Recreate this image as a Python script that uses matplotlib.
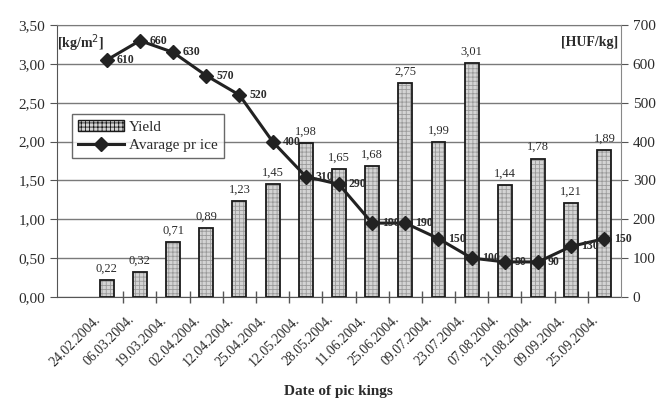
import numpy as np
import matplotlib.pyplot as plt
import matplotlib.transforms as mtransforms
from matplotlib.patches import Patch
from matplotlib.lines import Line2D

dates = ["24.02.2004.", "06.03.2004.", "19.03.2004.", "02.04.2004.",
         "12.04.2004.", "25.04.2004.", "12.05.2004.", "28.05.2004.",
         "11.06.2004.", "25.06.2004.", "09.07.2004.", "23.07.2004.",
         "07.08.2004.", "21.08.2004.", "09.09.2004.", "25.09.2004."]
yield_kg = [0.22, 0.32, 0.71, 0.89, 1.23, 1.45, 1.98, 1.65,
            1.68, 2.75, 1.99, 3.01, 1.44, 1.78, 1.21, 1.89]
price_huf = [610, 660, 630, 570, 520, 400, 310, 290,
             190, 190, 150, 100, 90, 90, 130, 150]

plt.rcParams['font.family'] = ['Liberation Serif', 'DejaVu Serif']
plt.rcParams['hatch.color'] = '#8a8a8a'
plt.rcParams['hatch.linewidth'] = 0.6
txt = '#2b2b2b'

fig = plt.figure(figsize=(6.62, 3.99), dpi=100)
ax = fig.add_axes([0.086, 0.256, 0.852, 0.681])
ax2 = ax.twinx()

x = np.arange(len(dates))

# yield bars: dotted fill first, black outline on top
ax.bar(x, yield_kg, width=0.42, color='#d4d4d4', hatch='++++',
       edgecolor='#9a9a9a', linewidth=0, zorder=2)
ax.bar(x, yield_kg, width=0.42, fill=False, edgecolor='#1a1a1a',
       linewidth=1.3, zorder=3)
for xi, v in zip(x, yield_kg):
    ax.text(xi, v + 0.07, f"{v:.2f}".replace('.', ','), ha='center',
            va='bottom', fontsize=9, color=txt)

ax.set_xlim(-1.5, 15.5)
ax.set_ylim(0, 3.5)
ax.set_yticks(np.arange(0, 3.51, 0.5))
ax.set_yticklabels([f"{v:.2f}".replace('.', ',') for v in np.arange(0, 3.51, 0.5)],
                   fontsize=11, color=txt)
ax.yaxis.grid(True, color='#7a7a7a', linewidth=1.0, zorder=0)
ax.set_axisbelow(True)

ax.set_xticks(x)
ax.set_xticklabels(dates, rotation=45, ha='right', va='center',
                   rotation_mode='anchor', fontsize=10, color=txt)
ax.tick_params(axis='x', which='major', length=0, pad=15)
shift = mtransforms.ScaledTranslation(-0.08, 0, fig.dpi_scale_trans)
for lab in ax.get_xticklabels():
    lab.set_transform(lab.get_transform() + shift)
ax.set_xticks(x[:-1] + 0.5, minor=True)
ax.tick_params(axis='x', which='minor', direction='inout', length=8,
               color='#555555', width=1)
ax.tick_params(axis='y', direction='out', length=5, color='#555555')

for sp in ['left', 'bottom']:
    ax.spines[sp].set_color('#555555')
ax.spines['top'].set_color('#7a7a7a')
ax.spines['right'].set_visible(False)
ax2.spines['right'].set_color('#888888')
for sp in ['left', 'top', 'bottom']:
    ax2.spines[sp].set_visible(False)

fig.text(338 / 662, 1 - 392 / 399, "Date of pic kings", fontsize=11,
         fontweight='bold', color=txt, ha='center', va='center')

# average price line on the right axis
ax2.plot(x, price_huf, color='#222222', linewidth=2.2, marker='D',
         markersize=7, zorder=5)
for xi, p in zip(x, price_huf):
    ax2.text(xi + 0.3, p, str(p), ha='left', va='center', fontsize=8.5,
             fontweight='bold', color=txt, zorder=6)
ax2.set_ylim(0, 700)
ax2.set_yticks(np.arange(0, 701, 100))
ax2.tick_params(axis='y', direction='out', length=5, color='#555555',
                labelsize=11, labelcolor=txt)

ax.text(0.0, 0.932, "[kg/m$^2$]", transform=ax.transAxes, fontsize=10,
        fontweight='bold', color=txt, ha='left', va='center')
ax2.text(0.995, 0.935, "[HUF/kg]", transform=ax.transAxes, fontsize=10,
         fontweight='bold', color=txt, ha='right', va='center')

handles = [Patch(facecolor='#d4d4d4', edgecolor='#1a1a1a', hatch='++++'),
           Line2D([], [], color='#222222', linewidth=2.2, marker='D',
                  markersize=7)]
leg = ax2.legend(handles, ["Yield", "Avarage pr ice"], loc='upper left',
                 bbox_to_anchor=(0.027, 0.673), borderaxespad=0,
                 fontsize=11, frameon=True, fancybox=False,
                 handlelength=3.0, labelspacing=0.3, handletextpad=0.3)
leg.get_frame().set_edgecolor('#444444')
leg.get_frame().set_linewidth(1.0)
for t in leg.get_texts():
    t.set_color(txt)

fig.savefig("out.png", dpi=100)
